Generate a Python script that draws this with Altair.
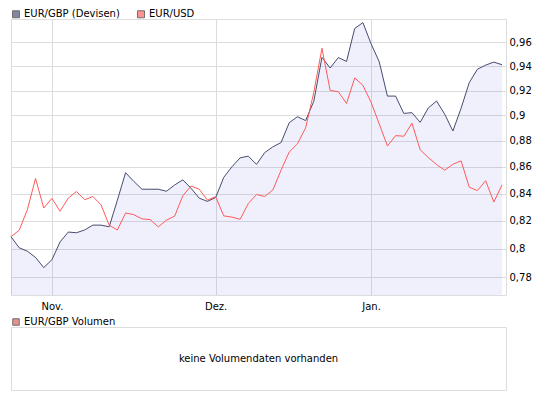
import altair as alt
import pandas as pd

# ---- data ----
SERIES = ["EUR/GBP (Devisen)", "EUR/USD"]
LINE_COLORS = ["#464d6e", "#ff5a5a"]
LEGEND_FILLS = ["#4b5377", "#ff6666"]

eur_gbp = [0.8086, 0.8007, 0.7983, 0.7939, 0.7868, 0.7923, 0.8049, 0.8119, 0.8114, 0.8134,
           0.8169, 0.8169, 0.8157, 0.8351, 0.8556, 0.8491, 0.8432, 0.8432, 0.8432, 0.8417,
           0.8464, 0.8502, 0.8439, 0.8366, 0.8342, 0.8370, 0.8521, 0.8601, 0.8669, 0.8682,
           0.8619, 0.8709, 0.8754, 0.8787, 0.8942, 0.8990, 0.8959, 0.9113, 0.9474, 0.9385,
           0.9472, 0.9439, 0.9718, 0.9769, 0.9588, 0.9436, 0.9155, 0.9155, 0.9016, 0.9022,
           0.8945, 0.9060, 0.9115, 0.9010, 0.8877, 0.9057, 0.9265, 0.9375, 0.9409, 0.9434,
           0.9412]

eur_usd = [0.8086, 0.8132, 0.8281, 0.8513, 0.8293, 0.8364, 0.8270, 0.8366, 0.8415, 0.8354,
           0.8378, 0.8317, 0.8168, 0.8134, 0.8257, 0.8245, 0.8214, 0.8209, 0.8156, 0.8205,
           0.8234, 0.8384, 0.8456, 0.8432, 0.8351, 0.8377, 0.8236, 0.8227, 0.8211, 0.8326,
           0.8393, 0.8378, 0.8427, 0.8575, 0.8714, 0.8777, 0.8901, 0.9185, 0.9550, 0.9201,
           0.9190, 0.9095, 0.9303, 0.9243, 0.9105, 0.8932, 0.8760, 0.8841, 0.8836, 0.8938,
           0.8731, 0.8671, 0.8618, 0.8575, 0.8620, 0.8646, 0.8447, 0.8422, 0.8496, 0.8337,
           0.8464]

month_ticks = [5, 25, 44]
month_labels = ["Nov.", "Dez.", "Jan."]
price_ticks = [0.78, 0.80, 0.82, 0.84, 0.86, 0.88, 0.90, 0.92, 0.94, 0.96]
price_domain = [0.768, 0.980]

VOLUME_SERIES = ["EUR/GBP Volumen"]
VOLUME_FILL = ["#d9665f"]
NO_DATA_TEXT = "keine Volumendaten vorhanden"

# ---- layout ----
FONT = "DejaVu Sans"
W, H = 495, 276
VH = 63
GRID = "#dcdcdc"
FRAME = "#d6d6d6"

n = len(eur_gbp)
idx = list(range(n))
right_pad = 4 * (n - 1) / (W - 4)

long_df = pd.DataFrame({
    "idx": idx + idx,
    "kurs": eur_gbp + eur_usd,
    "serie": [SERIES[0]] * n + [SERIES[1]] * n,
})
gbp_df = pd.DataFrame({"idx": idx, "kurs": eur_gbp})

label_expr = " : ".join(
    f"datum.value == {t} ? '{l}'" for t, l in zip(month_ticks, month_labels)
) + " : ''"

x_enc = alt.X(
    "idx:Q",
    scale=alt.Scale(domain=[0, n - 1 + right_pad], nice=False, zero=False),
    axis=alt.Axis(values=month_ticks, labelExpr=label_expr, title=None, domain=False,
                  ticks=False, labelPadding=6, grid=True, gridColor=GRID, gridWidth=1,
                  labelFont=FONT, labelFontSize=10, labelColor="black",
                  labelFlush=False, labelOverlap=False),
)
y_enc = alt.Y(
    "kurs:Q",
    scale=alt.Scale(type="log", domain=price_domain, nice=False, zero=False),
    axis=alt.Axis(orient="right", values=price_ticks, format=".2~f",
                  labelExpr="replace(datum.label, '.', ',')", title=None, domain=False,
                  ticks=False, labelPadding=3, grid=True, gridColor=GRID, gridWidth=1,
                  labelFont=FONT, labelFontSize=10, labelColor="black",
                  labelOverlap=False, labelFlush=False),
)

area = alt.Chart(gbp_df).mark_area(color="#6e6ee0", fillOpacity=0.1, line=False).encode(
    x=x_enc, y=y_enc, y2=alt.datum(price_domain[0])
)

lines = alt.Chart(long_df).mark_line(strokeWidth=1).encode(
    x=x_enc, y=y_enc,
    stroke=alt.Stroke("serie:N", scale=alt.Scale(domain=SERIES, range=LINE_COLORS), legend=None),
)

legend_top = alt.Chart(pd.DataFrame({"serie": SERIES})).mark_square(size=0).encode(
    fill=alt.Fill(
        "serie:N",
        scale=alt.Scale(domain=SERIES, range=LEGEND_FILLS),
        legend=alt.Legend(orient="none", legendX=0, legendY=-10, direction="horizontal",
                          title=None, symbolType="square", symbolSize=49,
                          symbolStrokeColor="#333333", symbolStrokeWidth=1,
                          labelFont=FONT, labelFontSize=10, labelColor="black",
                          labelOffset=3, columnPadding=15, padding=0, rowPadding=0),
    )
)

top = alt.layer(area, lines, legend_top).properties(width=W, height=H)

vol_df = pd.DataFrame({"serie": VOLUME_SERIES, "hinweis": [NO_DATA_TEXT]})
vol_text = alt.Chart(vol_df).mark_text(font=FONT, fontSize=10, color="black").encode(
    text="hinweis:N", x=alt.value(W / 2), y=alt.value(VH / 2)
)
vol_legend = alt.Chart(vol_df).mark_square(size=0).encode(
    fill=alt.Fill(
        "serie:N",
        scale=alt.Scale(domain=VOLUME_SERIES, range=VOLUME_FILL),
        legend=alt.Legend(orient="none", legendX=0, legendY=-10, direction="horizontal",
                          title=None, symbolType="square", symbolSize=42,
                          symbolStrokeColor="#333333", symbolStrokeWidth=1,
                          labelFont=FONT, labelFontSize=10, labelColor="black",
                          labelOffset=3, padding=0),
    )
)
bottom = alt.layer(vol_text, vol_legend).properties(width=W, height=VH)

chart = (
    alt.vconcat(top, bottom, spacing=4)
    .resolve_scale(fill="independent")
    .resolve_legend(fill="independent")
    .properties(padding={"left": 0, "top": 0, "right": 0, "bottom": 0})
    .configure_view(stroke=FRAME, strokeWidth=1)
    .configure(font=FONT, background="white")
)

chart.save("out.html", embed_options={"renderer": "svg", "actions": False})
